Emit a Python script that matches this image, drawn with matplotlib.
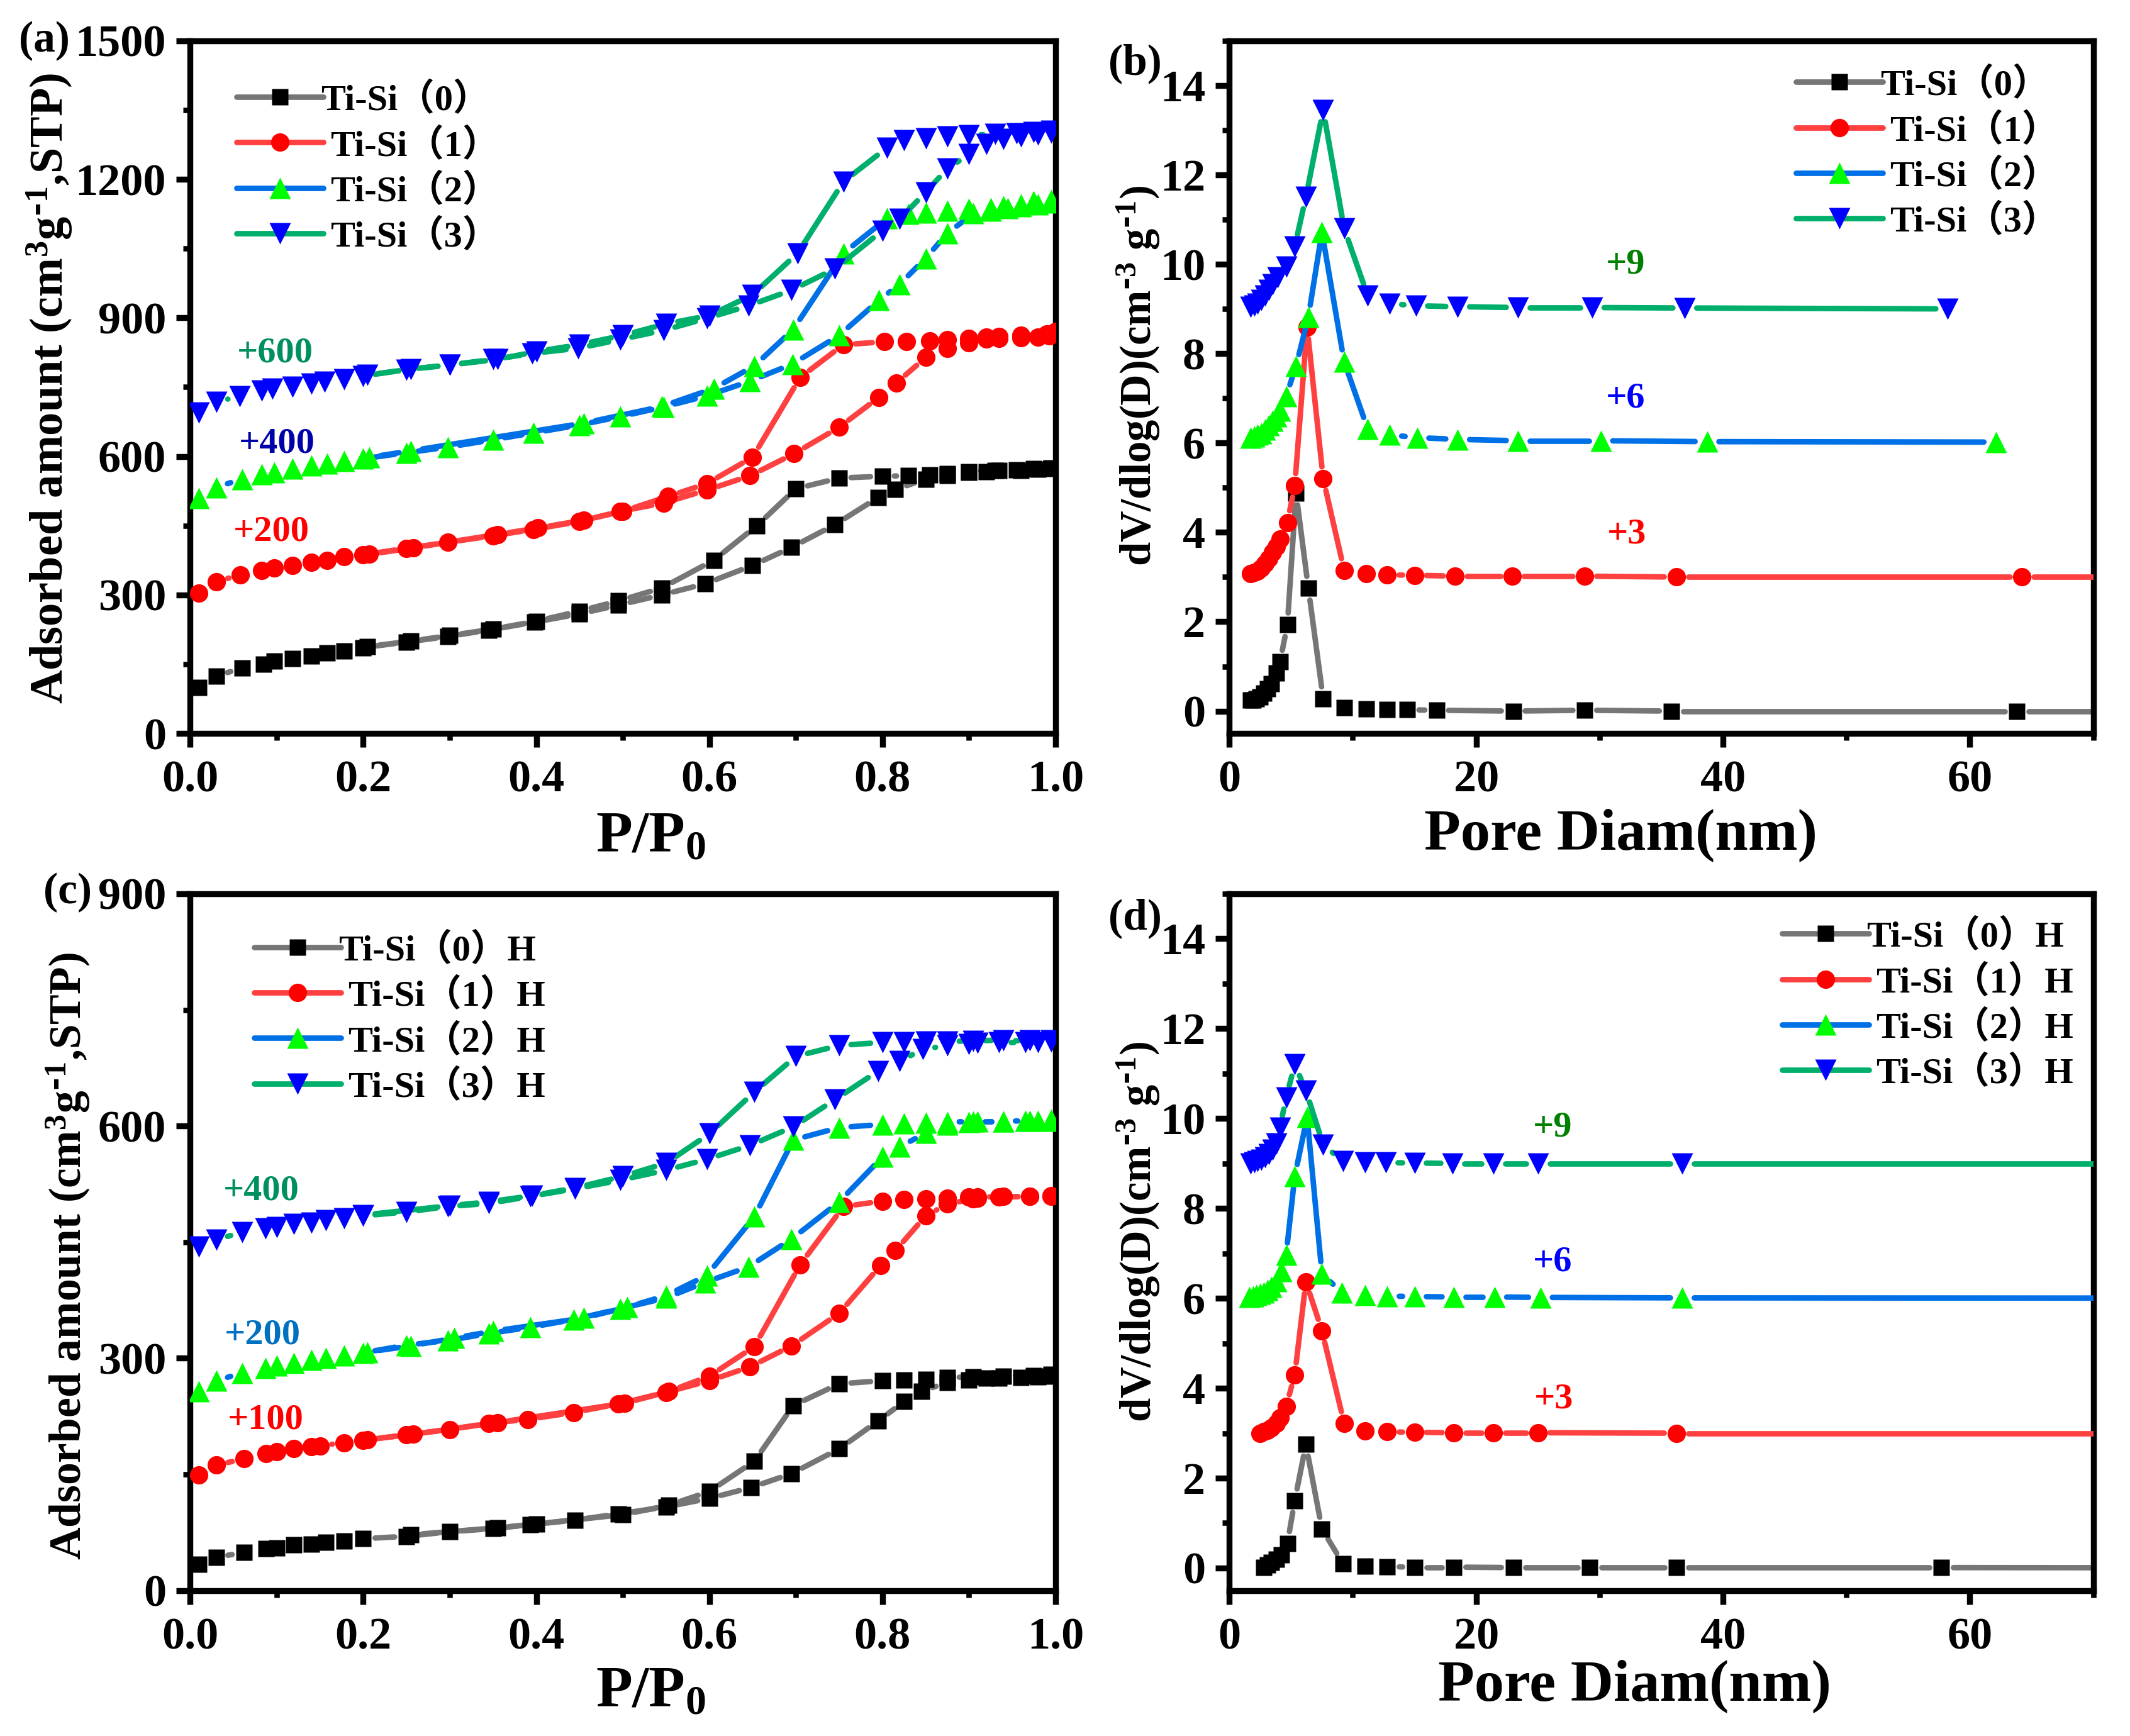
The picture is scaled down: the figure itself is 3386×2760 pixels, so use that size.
import numpy as np
import matplotlib
matplotlib.use('Agg')
import matplotlib.pyplot as plt
from matplotlib.lines import Line2D
from matplotlib.ticker import MultipleLocator, FuncFormatter

plt.rcParams['font.family'] = ['Liberation Serif', 'Noto Sans CJK SC', 'DejaVu Sans']
plt.rcParams['font.weight'] = 'bold'
plt.rcParams['mathtext.default'] = 'regular'

# ---------- panel (a): isotherms, adsorption branch followed by desorption branch
a0_x = [.01,.03,.06,.085,.097,.118,.14,.158,.178,.2,.25,.298,.345,.398,.45,.495,.545,.595,.65,.695,.745,.795,.815,.85,.875,.9,.92,.935,.96,.98,.995,
        .995,.975,.955,.93,.9,.875,.855,.83,.8,.75,.7,.655,.605,.545,.495,.45,.4,.35,.3,.255,.205]
a0_y = [100,124,142,150,157,162,167,174,179,186,198,210,224,241,259,278,300,324,364,403,452,511,528,551,558,565,567,570,570,572,573,
        575,573,571,570,567,563,560,558,557,553,530,450,375,315,287,265,243,226,212,200,188]
a1_x = [.01,.03,.058,.083,.097,.118,.14,.158,.178,.2,.25,.298,.35,.397,.45,.497,.547,.597,.647,.698,.75,.796,.816,.85,.875,.9,.92,.935,.96,.98,.993,
        1.0,.99,.96,.935,.92,.9,.875,.855,.828,.802,.755,.705,.65,.597,.552,.5,.455,.402,.355,.258,.207]
a1_y = [304,328,344,353,358,364,370,375,383,387,401,414,428,442,459,481,499,527,558,606,663,728,759,814,834,846,854,856,857,858,861,
        870,865,862,860,858,856,853,850,849,848,842,771,598,541,513,481,462,445,431,402,388]
a2_x = [.01,.03,.06,.083,.097,.118,.14,.158,.178,.2,.25,.298,.35,.397,.45,.497,.547,.597,.647,.696,.75,.796,.82,.85,.875,.905,.925,.945,.96,.98,.995,
        .995,.975,.96,.94,.925,.9,.875,.85,.83,.805,.755,.697,.652,.605,.545,.455,.255,.207]
a2_y = [509,533,551,561,565,573,580,584,590,595,608,620,636,651,668,686,707,731,763,800,862,938,973,1029,1083,1126,1132,1138,1142,1145,1150,
        1155,1152,1146,1142,1138,1136,1132,1128,1125,1115,1040,875,796,747,708,672,612,598]
a3_x = [.01,.03,.057,.083,.095,.118,.14,.155,.178,.2,.25,.3,.35,.395,.448,.497,.547,.597,.645,.695,.745,.8,.82,.85,.875,.9,.92,.94,.96,.98,.995,
        .995,.975,.955,.93,.9,.875,.85,.825,.805,.755,.702,.65,.6,.55,.5,.45,.4,.355,.3,.255,.205]
a3_y = [695,718,730,743,746,750,758,762,767,774,788,798,810,823,834,853,873,899,926,960,1006,1089,1114,1172,1223,1254,1277,1287,1293,1297,1301,
        1305,1302,1300,1298,1295,1292,1288,1285,1268,1195,1040,950,905,887,862,842,827,810,798,789,776]

# ---------- panel (b): pore size distributions
b0_x = [1.7,1.9,2.2,2.5,2.8,3.1,3.4,3.8,4.1,4.7,5.4,6.4,7.6,9.3,11.1,12.8,14.4,16.8,23.0,28.8,35.8,63.8,110]
b0_y = [.25,.25,.28,.32,.4,.5,.62,.85,1.1,1.93,4.88,2.75,.28,.08,.05,.03,.03,.02,0,.02,0,0,0]
b1_x = [1.7,2.0,2.3,2.6,2.9,3.2,3.5,3.8,4.1,4.7,5.3,6.3,7.6,9.3,11.1,12.8,15,18.3,22.9,28.8,36.2,64.2,110]
b1_y = [3.08,3.1,3.13,3.2,3.3,3.42,3.55,3.68,3.85,4.22,5.05,8.6,5.2,3.15,3.07,3.05,3.04,3.02,3.02,3.02,3.0,3.0,3.0]
b2_x = [1.7,2.0,2.3,2.6,2.9,3.2,3.5,3.8,4.1,4.6,5.4,6.4,7.5,9.3,11.2,13,15.2,18.5,23.4,30.1,38.7,62.1]
b2_y = [6.12,6.15,6.18,6.22,6.3,6.4,6.5,6.6,6.72,7.05,7.72,8.82,10.72,7.82,6.32,6.18,6.12,6.08,6.05,6.05,6.03,6.02]
b3_x = [1.7,2.0,2.3,2.6,2.9,3.2,3.5,3.9,4.6,5.3,6.2,7.6,9.3,11.2,13,15.1,18.5,23.4,29.4,36.9,58.2]
b3_y = [9.05,9.07,9.12,9.2,9.3,9.42,9.55,9.7,9.95,10.4,11.5,13.45,10.8,9.3,9.12,9.07,9.05,9.03,9.03,9.02,9.0]

# ---------- panel (c): isotherms after treatment
c0_x = [.01,.03,.062,.088,.1,.12,.14,.157,.178,.2,.25,.3,.35,.393,.445,.495,.55,.6,.648,.695,.75,.795,.825,.845,.875,.9,.92,.935,.96,.98,.993,
        .995,.975,.94,.905,.875,.85,.825,.8,.75,.697,.652,.6,.553,.5,.4,.355,.255]
c0_y = [34,43,49,54,55,59,60,62,64,67,70,76,80,85,91,99,108,119,133,151,183,219,244,257,269,272,274,274,275,276,277,
        279,278,277,276,275,273,272,271,267,239,167,128,110,98,86,81,72]
c1_x = [.01,.03,.062,.088,.1,.12,.14,.15,.178,.2,.25,.3,.345,.39,.443,.495,.55,.6,.647,.695,.75,.798,.815,.85,.875,.905,.91,.935,.97,.995,
        .995,.97,.94,.91,.9,.875,.85,.825,.8,.755,.705,.652,.6,.553,.502,.355,.258,.205]
c1_y = [149,162,170,177,179,183,186,187,191,194,201,208,216,221,230,241,256,271,289,316,358,420,439,484,499,506,507,508,509,509,
        510,509,509,508,508,507,506,505,503,496,421,315,277,257,242,217,202,195]
c2_x = [.01,.03,.06,.087,.1,.12,.14,.157,.178,.2,.25,.298,.345,.393,.443,.497,.55,.595,.645,.695,.75,.8,.82,.85,.875,.9,.91,.94,.965,.98,.995,
        .995,.97,.94,.905,.875,.85,.825,.8,.75,.697,.652,.597,.55,.505,.455,.35,.305,.255,.205]
c2_y = [257,271,281,287,291,294,298,300,304,307,317,323,332,340,350,364,378,398,418,454,502,560,573,591,602,605,606,606,607,607,607,
        608,607,606,606,605,604,603,602,598,582,483,407,381,366,352,335,326,316,308]
c3_x = [.01,.03,.06,.087,.1,.12,.14,.157,.178,.2,.25,.298,.345,.393,.445,.497,.55,.597,.647,.697,.745,.795,.82,.847,.875,.9,.91,.935,.965,.98,.995,
        .995,.97,.94,.905,.875,.85,.825,.8,.75,.7,.652,.6,.55,.5,.445,.395,.345,.3,.2]
c3_y = [444,453,463,468,469,473,475,478,481,484,489,496,500,509,519,530,543,557,575,599,634,671,684,699,704,706,707,708,708,708,709,
        711,711,711,710,709,709,708,708,704,690,644,590,552,535,520,510,502,497,485]

# ---------- panel (d): pore size distributions after treatment
d0_x = [2.8,3.1,3.4,3.8,4.2,4.7,5.3,6.2,7.5,9.2,11,12.8,15,18.2,23,29.2,36.2,57.7,110]
d0_y = [.02,.07,.12,.2,.3,.55,1.5,2.75,.87,.1,.04,.03,.02,.02,.01,.01,.01,.01,0]
d1_x = [2.5,2.8,3.1,3.4,3.8,4.1,4.6,5.3,6.2,7.5,9.3,11,12.8,15,18.2,21.4,25,36.2,110]
d1_y = [3.0,3.03,3.07,3.12,3.22,3.35,3.6,4.3,6.37,5.28,3.22,3.05,3.03,3.02,3.01,3.01,3.01,3.0,3.0]
d2_x = [1.6,1.9,2.2,2.5,2.8,3.1,3.4,3.8,4.2,4.6,5.3,6.3,7.5,9.1,11,12.8,15,18.2,21.5,25.2,36.7,110]
d2_y = [6.03,6.05,6.07,6.1,6.13,6.18,6.25,6.38,6.6,6.97,8.72,10.03,6.55,6.13,6.07,6.05,6.04,6.03,6.03,6.02,6.01,6.0]
d3_x = [1.7,2.0,2.3,2.6,2.9,3.2,3.5,3.8,4.1,4.6,5.3,6.2,7.6,9.2,11,12.7,15,18.1,21.4,25,36.7,110]
d3_y = [9.0,9.02,9.05,9.08,9.14,9.2,9.3,9.45,9.8,10.47,11.2,10.62,9.42,9.05,9.03,9.02,9.01,9.0,9.0,9.0,9.0,9.0]

labels_top = ['Ti-Si（0）', 'Ti-Si（1）', 'Ti-Si（2）', 'Ti-Si（3）']
labels_bot = ['Ti-Si（0）H', 'Ti-Si（1）H', 'Ti-Si（2）H', 'Ti-Si（3）H']
line_colors = ['#767676', '#FF4040', '#0070E6', '#00AF6B']
mark_colors = ['#000000', '#FF0000', '#00FF00', '#0000FF']
markers = ['s', 'o', '^', 'v']
msizes = [19, 21, 24, 24]

W, H = 3386, 2760
S = 3386 / 1568.0
fig = plt.figure(figsize=(W / 100, H / 100), dpi=100)

def make_axes(l, r, t, b):
    return fig.add_axes([l * S / W, 1 - b * S / H, (r - l) * S / W, (b - t) * S / H])

GAP = 19  # pixels between a line's end and the centre of its symbol
LW = 6.3

def series(ax, x, y, i):
    pts = ax.transData.transform(np.column_stack([x, y]))
    inv = ax.transData.inverted()
    for p, q in zip(pts[:-1], pts[1:]):
        d = np.hypot(*(q - p))
        if d <= 2 * GAP:
            continue
        u = (q - p) / d
        seg = inv.transform(np.array([p + u * GAP, q - u * GAP]))
        ax.plot(seg[:, 0], seg[:, 1], color=line_colors[i], lw=LW, solid_capstyle='round', zorder=2 + i)
    ax.plot(x, y, ls='none', marker=markers[i], ms=msizes[i], mfc=mark_colors[i], mec='none', zorder=2.5 + i)

def finish(ax, xlim, ylim, xmaj, ymaj, xfmt, xlabel, xc, yc, ylabel, ylx, lly, ylsize):
    for s in ax.spines.values():
        s.set_linewidth(6.8)
    ax.set_xlim(*xlim)
    ax.set_ylim(*ylim)
    ax.xaxis.set_major_locator(MultipleLocator(xmaj))
    ax.xaxis.set_minor_locator(MultipleLocator(xmaj / 2))
    ax.yaxis.set_major_locator(MultipleLocator(ymaj))
    ax.yaxis.set_minor_locator(MultipleLocator(ymaj / 2))
    ax.tick_params(which='major', length=15.5, width=6.8, labelsize=52)
    ax.tick_params(which='minor', length=8, width=6.2)
    ax.tick_params(axis='x', which='major', pad=15)
    ax.tick_params(axis='y', which='major', pad=12)
    ax.xaxis.set_major_formatter(xfmt)
    ax.set_xlabel(xlabel, fontsize=68, fontweight='bold', va='center')
    ax.xaxis.set_label_coords(xc, yc)
    ax.set_ylabel(ylabel, fontsize=ylsize, fontweight='bold', va='center')
    ax.yaxis.set_label_coords(ylx, lly)

def legend(ax, labels, ax_l, ax_t, ax_w, ax_h, hx, row1):
    handles = [Line2D([], [], color=line_colors[i], lw=LW, marker=markers[i], ms=msizes[i],
                      mfc=mark_colors[i], mec='none', solid_capstyle='round') for i in range(4)]
    leg = ax.legend(handles, labels, loc='upper left', frameon=False, numpoints=1,
                    prop={'size': 42, 'weight': 'bold'},
                    bbox_to_anchor=((hx - ax_l) / ax_w, (ax_t + ax_h - row1) / ax_h),
                    borderpad=0, borderaxespad=0, handlelength=2.37, handletextpad=0.19, labelspacing=0.28)
    leg.set_zorder(30)
    leg.get_texts()[0].set_x(-15)

def note(ax, x, y, s, c, size=42):
    ax.text(x, y, s, color=c, fontsize=size, fontweight='bold', ha='center', va='center', zorder=20)

f1 = FuncFormatter(lambda v, p: f'{v:.1f}')
f0 = FuncFormatter(lambda v, p: f'{v:.0f}')
ADS = r'Adsorbed amount (cm$^{3}$g$^{\text{-}1}$,STP)'
DV = r'dV/dlog(D)(cm$^{\text{-}3}$ g$^{\text{-}1}$)'
PP = 'P/P$_{0}$'
PD = 'Pore Diam(nm)'

# (a)
ax = make_axes(140, 777, 30, 540)
ax.set_xlim(0, 1); ax.set_ylim(0, 1500)
for i, (x, y) in enumerate([(a0_x, a0_y), (a1_x, a1_y), (a2_x, a2_y), (a3_x, a3_y)]):
    series(ax, x, y, i)
finish(ax, (0, 1), (0, 1500), .2, 300, f1, PP, .532, -.15, ADS, -.163, .498, 53.5)
legend(ax, labels_top, 140, 30, 637, 510, 174, 60.4)
note(ax, .098, 824, '+600', '#009060')
note(ax, .1, 628, '+400', '#0000A8')
note(ax, .094, 437, '+200', '#FF0000')

# (b)
ax = make_axes(905, 1541, 30, 540)
ax.set_xlim(0, 70); ax.set_ylim(-.5, 15)
for i, (x, y) in enumerate([(b0_x, b0_y), (b1_x, b1_y), (b2_x, b2_y), (b3_x, b3_y)]):
    series(ax, x, y, i)
finish(ax, (0, 70), (-.5, 15), 20, 2, f0, PD, .453, -.147, DV, -.105, .516, 49.5)
legend(ax, labels_top, 905, 30, 636, 510, 1322, 49.4)
note(ax, 32.1, 10.0, '+9', '#008000')
note(ax, 32.1, 7.0, '+6', '#0000FF')
note(ax, 32.2, 3.95, '+3', '#FF0000')

# (c)
ax = make_axes(140, 777, 658, 1171)
ax.set_xlim(0, 1); ax.set_ylim(0, 900)
for i, (x, y) in enumerate([(c0_x, c0_y), (c1_x, c1_y), (c2_x, c2_y), (c3_x, c3_y)]):
    series(ax, x, y, i)
finish(ax, (0, 1), (0, 900), .2, 300, f1, PP, .532, -.146, ADS, -.141, .48, 51.5)
legend(ax, labels_bot, 140, 658, 637, 513, 187, 686.4)
note(ax, .082, 516, '+400', '#009060')
note(ax, .084, 330, '+200', '#0070C0')
note(ax, .087, 220, '+100', '#FF0000')

# (d)
ax = make_axes(905, 1541, 658, 1171)
ax.set_xlim(0, 70); ax.set_ylim(-.5, 15)
for i, (x, y) in enumerate([(d0_x, d0_y), (d1_x, d1_y), (d2_x, d2_y), (d3_x, d3_y)]):
    series(ax, x, y, i)
finish(ax, (0, 70), (-.5, 15), 20, 2, f0, PD, .469, -.137, DV, -.105, .515, 49.5)
legend(ax, labels_bot, 905, 658, 636, 513, 1312, 676.4)
note(ax, 26.2, 9.8, '+9', '#008000')
note(ax, 26.2, 6.8, '+6', '#0000FF')
note(ax, 26.3, 3.75, '+3', '#FF0000')

# panel tags
for tx, ty, s in [(14, 30, '(a)'), (816, 47, '(b)'), (32, 657, '(c)'), (816, 676, '(d)')]:
    fig.text(tx * S / W, 1 - ty * S / H, s, fontsize=50, fontweight='bold', ha='left', va='center')

fig.savefig('out.png', dpi=100)
